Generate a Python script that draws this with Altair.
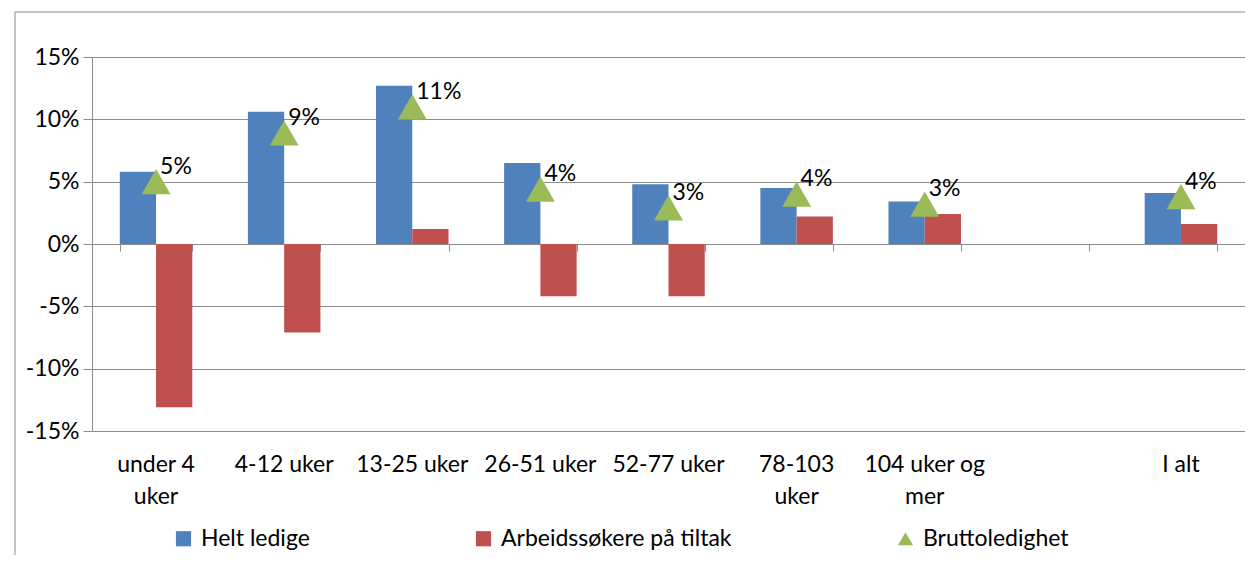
import altair as alt
import pandas as pd

categories = ["under 4 uker", "4-12 uker", "13-25 uker", "26-51 uker", "52-77 uker",
              "78-103 uker", "104 uker og mer", " ", "I alt"]
series_names = ["Helt ledige", "Arbeidssøkere på tiltak", "Bruttoledighet"]
helt_ledige = [5.8, 10.6, 12.7, 6.5, 4.8, 4.5, 3.4, None, 4.1]
paa_tiltak = [-13.1, -7.1, 1.2, -4.2, -4.2, 2.2, 2.4, None, 1.6]
brutto = [5.0, 8.9, 11.0, 4.4, 2.9, 4.0, 3.2, None, 3.8]
y_ticks = [-15, -10, -5, 0, 5, 10, 15]

rows = []
for i, c in enumerate(categories):
    for s, vals in zip(series_names, [helt_ledige, paa_tiltak, brutto]):
        if vals[i] is not None:
            rows.append({"category": c, "series": s, "value": vals[i]})
df = pd.DataFrame(rows)

FONT = "Lato"
GRID = "#8c8c8c"
colors = ["#4F81BD", "#C0504D", "#9BBB59"]

color_scale = alt.Scale(domain=series_names, range=colors)
shape_scale = alt.Scale(domain=series_names, range=["square", "square", "triangle-up"])
x_scale = alt.Scale(domain=categories, paddingInner=0.434, paddingOuter=0.217)
y_scale = alt.Scale(domain=[-15, 15], nice=False)

legend = alt.Legend(
    title=None, orient="none", direction="horizontal", legendX=80, legendY=470,
    labelFont=FONT, labelFontSize=23, labelColor="black", symbolSize=230,
    columnPadding=162, labelOffset=6, symbolStrokeWidth=0, labelLimit=500,
)

label_expr = ("datum.value == 'under 4 uker' ? ['under 4', 'uker'] : "
              "datum.value == '78-103 uker' ? ['78-103', 'uker'] : "
              "datum.value == '104 uker og mer' ? ['104 uker og', 'mer'] : datum.value")

base = alt.Chart(df)

bars = base.transform_filter(
    alt.FieldOneOfPredicate(field="series", oneOf=series_names[:2])
).mark_bar().encode(
    x=alt.X("category:N", scale=x_scale, sort=categories, title=None,
            axis=alt.Axis(orient="bottom", domain=False, ticks=False, labelAngle=0,
                          labelPadding=22, labelLineHeight=32, labelBaseline="top",
                          labelExpr=label_expr, labelOverlap=False, labelBound=False,
                          labelFont=FONT, labelFontSize=23, labelColor="black")),
    xOffset=alt.XOffset("series:N", sort=series_names[:2],
                        scale=alt.Scale(domain=series_names[:2], paddingInner=0, paddingOuter=0)),
    y=alt.Y("value:Q", scale=y_scale, title=None,
            axis=alt.Axis(values=y_ticks, labelExpr="datum.value + '%'", grid=True,
                          gridColor=GRID, domainColor=GRID, tickColor=GRID, tickSize=9,
                          labelPadding=4, labelFont=FONT, labelFontSize=23,
                          labelColor="black")),
    color=alt.Color("series:N", scale=color_scale, legend=legend),
)

pts = base.transform_filter(alt.datum.series == "Bruttoledighet")

points = pts.mark_point(filled=True, size=840, opacity=1).encode(
    x=alt.X("category:N", scale=x_scale, sort=categories, title=None,
            axis=alt.Axis(orient="bottom", offset=-187, labels=False, domain=True,
                          domainColor=GRID, ticks=True, tickColor=GRID, tickSize=7,
                          tickBand="extent", grid=False)),
    y=alt.Y("value:Q", scale=y_scale),
    color=alt.Color("series:N", scale=color_scale, legend=legend),
    shape=alt.Shape("series:N", scale=shape_scale, legend=legend),
)

texts = pts.transform_calculate(
    label="format(datum.value, '.0f') + '%'"
).mark_text(align="left", baseline="middle", dx=4, dy=-15, font=FONT, fontSize=23,
            color="black").encode(
    x=alt.X("category:N", scale=x_scale, sort=categories, axis=None),
    y=alt.Y("value:Q", scale=y_scale),
    text="label:N",
)

one = pd.DataFrame({"a": [0]})
frame_left = alt.Chart(one).mark_rule(color=GRID, strokeWidth=1).encode(
    x=alt.value(-77), y=alt.value(-45), y2=alt.value(498))
frame_top = alt.Chart(one).mark_rule(color=GRID, strokeWidth=1).encode(
    x=alt.value(-77), x2=alt.value(1153), y=alt.value(-45))

chart = alt.layer(frame_left, frame_top, bars, points, texts).resolve_axis(
    x="independent"
).properties(
    width=1153, height=374,
    padding={"left": 84, "top": 49, "right": 0, "bottom": 124},
    autosize=alt.AutoSizeParams(type="none"),
).configure(font=FONT).configure_view(strokeWidth=0)

chart.save("out.html", embed_options={"renderer": "svg", "actions": False})
